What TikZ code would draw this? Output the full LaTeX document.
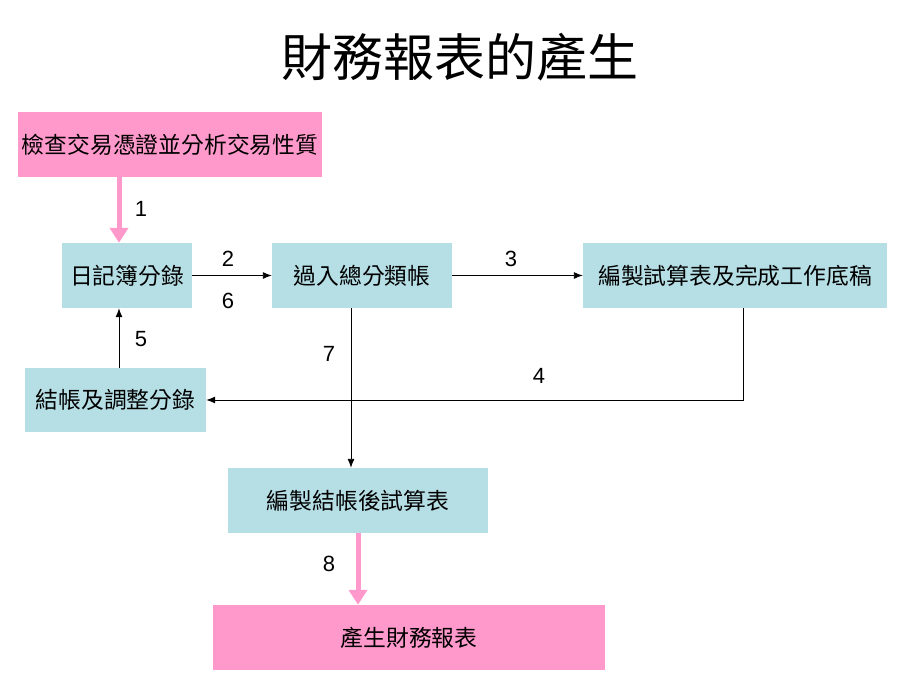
\documentclass[tikz,border=0pt]{standalone}
\usepackage{fontspec}
\setmainfont{Liberation Sans}
\newfontfamily\cjk{Noto Sans CJK TC}
\usetikzlibrary{arrows.meta}
\definecolor{boxpink}{rgb}{1.00,0.60,0.80}
\definecolor{boxblue}{rgb}{0.71,0.87,0.90}
\begin{document}
\begin{tikzpicture}[x=1pt,y=-1pt,
  stepbox/.style = {fill = boxblue, inner sep = 0pt, font = \cjk\fontsize{22.8}{27}\selectfont},
  endbox/.style = {fill = boxpink, inner sep = 0pt, font = \cjk\fontsize{22.8}{27}\selectfont},
  thin arrow/.style = {draw = black, line width = 0.9pt, -{Latex[length=9pt,width=7pt]}},
  pink arrow/.style = {draw = boxpink, line width = 5pt, -{Triangle[length=15pt,width=18pt]}},
  num/.style = {font = \fontsize{22}{26}\selectfont}]
\useasboundingbox (0,0) rectangle (920,690);
\node[font = \cjk\fontsize{51}{60}\selectfont] (title) at (460,57) {財務報表的產生};
\node[endbox, minimum width = 304pt, minimum height = 65pt] (check) at (170,144.5) {檢查交易憑證並分析交易性質};
\node[stepbox, minimum width = 130pt, minimum height = 65pt] (journal) at (127,275.5) {日記簿分錄};
\node[stepbox, minimum width = 180pt, minimum height = 65pt] (ledger) at (362,275.5) {過入總分類帳};
\node[stepbox, minimum width = 304pt, minimum height = 65pt] (trial) at (735,275.5) {編製試算表及完成工作底稿};
\node[stepbox, minimum width = 181pt, minimum height = 64pt] (closing) at (115.5,400) {結帳及調整分錄};
\node[stepbox, minimum width = 260pt, minimum height = 65pt] (post) at (358,500.5) {編製結帳後試算表};
\node[endbox, minimum width = 392pt, minimum height = 65pt] (report) at (409,637.5) {產生財務報表};
\draw[pink arrow] (check.south -| 119,0) -- (journal.north -| 119,0);
\draw[thin arrow] (journal.east) -- (ledger.west);
\draw[thin arrow] (ledger.east) -- (trial.west);
\draw[thin arrow] (trial.south -| 743,0) |- (closing.east);
\draw[thin arrow] (closing.north -| 119,0) -- (journal.south -| 119,0);
\draw[thin arrow] (ledger.south -| 351,0) -- (post.north -| 351,0);
\draw[pink arrow] (post.south) -- (report.north -| 358,0);
\node[num] (n1) at (141,209) {1};
\node[num] (n2) at (228,259) {2};
\node[num] (n6) at (228,301) {6};
\node[num] (n3) at (511,259) {3};
\node[num] (n4) at (539,376) {4};
\node[num] (n5) at (141,339) {5};
\node[num] (n7) at (329,354) {7};
\node[num] (n8) at (329,564) {8};
\end{tikzpicture}
\end{document}
